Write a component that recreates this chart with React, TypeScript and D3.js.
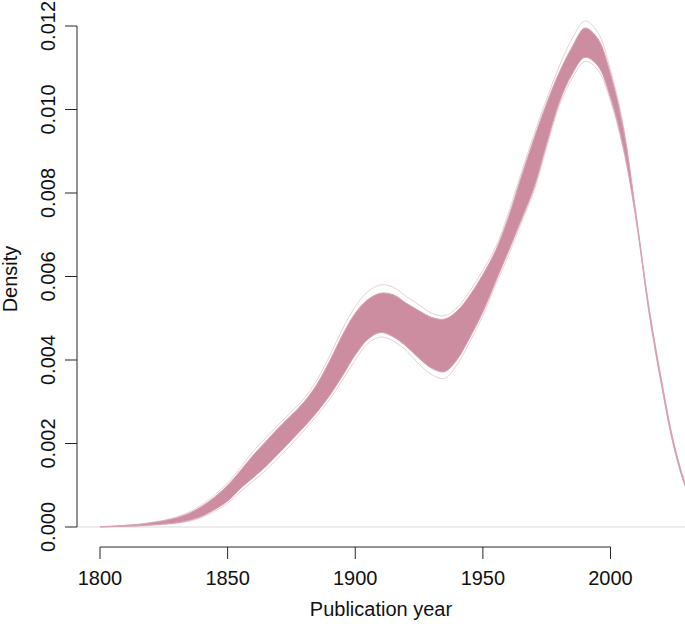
import React from "react";
import * as d3 from "d3";

// Publication year grid (every 5 years)
const years = [1800,1805,1810,1815,1820,1825,1830,1835,1840,1845,1850,1855,1860,1865,1870,1875,1880,1885,1890,1895,1900,1905,1910,1915,1920,1925,1930,1935,1940,1945,1950,1955,1960,1965,1970,1975,1980,1985,1990,1995,2000,2005,2010,2015,2020,2025,2030,2035];

// Dense bootstrap band: upper and lower envelope (density x 1e-3)
const bandUpper = [0.01,0.02,0.04,0.06,0.10,0.15,0.22,0.33,0.50,0.72,1.00,1.35,1.72,2.05,2.38,2.68,3.00,3.42,3.98,4.60,5.12,5.45,5.60,5.56,5.36,5.18,5.02,4.98,5.18,5.56,6.05,6.62,7.42,8.38,9.30,10.15,10.90,11.50,11.95,11.70,10.85,9.55,7.48,5.28,3.50,1.96,0.94,0.42];
const bandLower = [0.00,0.01,0.02,0.03,0.05,0.07,0.10,0.16,0.26,0.42,0.62,0.92,1.18,1.45,1.76,2.08,2.40,2.75,3.15,3.62,4.12,4.50,4.66,4.55,4.33,4.04,3.80,3.72,4.02,4.55,5.15,5.88,6.60,7.35,8.12,9.18,10.18,10.85,11.25,11.05,10.28,9.10,7.38,5.18,3.40,1.88,0.88,0.38];

// Outlying bootstrap curves (density x 1e-3)
const outerUpper = [0.01,0.02,0.04,0.07,0.11,0.16,0.24,0.36,0.54,0.77,1.06,1.42,1.81,2.14,2.46,2.76,3.08,3.52,4.10,4.74,5.28,5.64,5.80,5.74,5.52,5.32,5.12,5.06,5.26,5.66,6.15,6.70,7.52,8.48,9.40,10.25,11.05,11.70,12.12,11.85,10.95,9.62,7.52,5.30,3.52,1.97,0.95,0.42];
const outerLower = [0.00,0.01,0.01,0.02,0.04,0.06,0.09,0.14,0.23,0.38,0.57,0.85,1.10,1.36,1.66,1.98,2.32,2.67,3.06,3.52,4.00,4.40,4.55,4.45,4.22,3.90,3.65,3.56,3.90,4.45,5.06,5.80,6.50,7.28,8.04,9.10,10.10,10.75,11.15,10.95,10.20,9.05,7.36,5.16,3.38,1.87,0.87,0.37];

const xTicks = [1800, 1850, 1900, 1950, 2000];
const yTicks = [0, 0.002, 0.004, 0.006, 0.008, 0.010, 0.012];

const W = 685;
const H = 624;
const FONT = "'Liberation Sans', Arial, Helvetica, sans-serif";
const PINK = "#cc8da0";
const PINK_LIGHT = "#e2b9c6";

export default function App() {
  const x = d3.scaleLinear().domain([1800, 2000]).range([100, 610.5]);
  const y = d3.scaleLinear().domain([0, 0.012]).range([527, 26]);

  const rows = years.map((yr, i) => ({
    yr,
    lo: bandLower[i] / 1000,
    hi: bandUpper[i] / 1000,
    olo: outerLower[i] / 1000,
    ohi: outerUpper[i] / 1000,
  }));

  const curve = d3.curveCatmullRom.alpha(0.5);
  const area = d3
    .area<any>()
    .x((d) => x(d.yr))
    .y0((d) => y(d.lo))
    .y1((d) => y(d.hi))
    .curve(curve);
  const mk = (key: string) =>
    d3.line<any>().x((d) => x(d.yr)).y((d) => y(d[key])).curve(curve)(rows) || "";

  const axisColor = "#262626";
  const yAxisX = 77;
  const xAxisY = 547;
  const FS = 20;

  return (
    <div style={{ position: "fixed", left: 0, top: 0 }}>
      <svg width={W} height={H} style={{ display: "block", background: "#fff" }}>
        {/* zero line */}
        <line x1={yAxisX} x2={W} y1={y(0)} y2={y(0)} stroke="#d9d9d9" strokeWidth={1} />

        {/* bootstrap density curves */}
        <path d={mk("ohi")} fill="none" stroke={PINK_LIGHT} strokeWidth={0.7} />
        <path d={mk("olo")} fill="none" stroke={PINK_LIGHT} strokeWidth={0.7} />
        <path d={area(rows) || ""} fill={PINK} stroke="none" />
        <path d={mk("hi")} fill="none" stroke="#d7a2b2" strokeWidth={1} />
        <path d={mk("lo")} fill="none" stroke="#d7a2b2" strokeWidth={1} />

        {/* y axis */}
        <line x1={yAxisX} x2={yAxisX} y1={y(0.012)} y2={y(0)} stroke={axisColor} strokeWidth={1} />
        {yTicks.map((t) => (
          <g key={t}>
            <line x1={yAxisX - 12} x2={yAxisX} y1={y(t)} y2={y(t)} stroke={axisColor} strokeWidth={1} />
            <text
              transform={`translate(55, ${y(t)}) rotate(-90)`}
              textAnchor="middle"
              fontFamily={FONT}
              fontSize={FS}
              fill="#111"
            >
              {t.toFixed(3)}
            </text>
          </g>
        ))}

        {/* x axis */}
        <line x1={x(1800)} x2={x(2000)} y1={xAxisY} y2={xAxisY} stroke={axisColor} strokeWidth={1} />
        {xTicks.map((t) => (
          <g key={t}>
            <line x1={x(t)} x2={x(t)} y1={xAxisY} y2={xAxisY + 12} stroke={axisColor} strokeWidth={1} />
            <text x={x(t)} y={585} textAnchor="middle" fontFamily={FONT} fontSize={FS} fill="#111">
              {t}
            </text>
          </g>
        ))}

        {/* axis titles */}
        <text x={381} y={616} textAnchor="middle" fontFamily={FONT} fontSize={FS} fill="#111">
          Publication year
        </text>
        <text
          transform={`translate(17, 279) rotate(-90)`}
          textAnchor="middle"
          fontFamily={FONT}
          fontSize={FS}
          fill="#111"
        >
          Density
        </text>
      </svg>
    </div>
  );
}
